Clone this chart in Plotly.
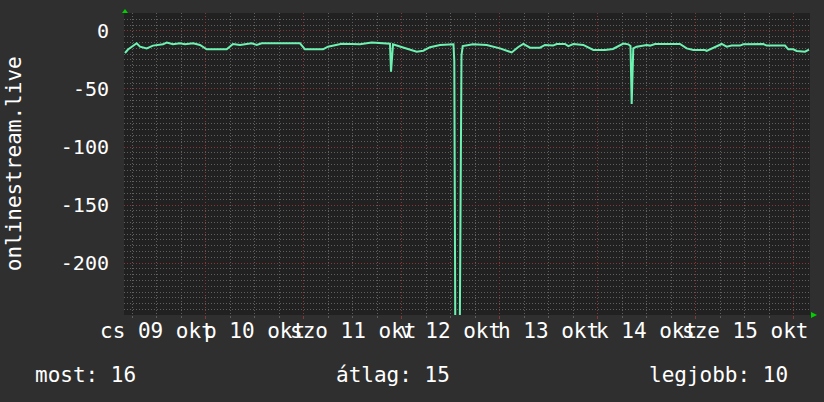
import pandas as pd
import plotly.graph_objects as go

# ---- data ----
base_time = "2025-10-09 00:00"
hours = [4.16, 4.90, 7.03, 7.84, 9.48, 11.02, 13.47, 14.38, 15.92, 17.63, 18.86, 20.82,
         22.53, 24.17, 29.07, 30.61, 32.33, 35.19, 36.42, 37.64, 47.02, 48.24, 52.65,
         53.88, 57.23, 61.71, 64.58, 69.06, 69.31, 69.80, 70.70, 73.96, 75.60, 77.22,
         78.86, 81.31, 84.17, 84.61, 84.81, 85.10, 86.08, 86.57, 86.87, 89.39, 92.74,
         96.00, 98.87, 100.41, 101.71, 103.35, 105.80, 107.02, 108.98, 109.89, 111.92,
         112.73, 113.95, 116.40, 118.85, 121.71, 123.67, 126.20, 127.42, 127.96, 128.25,
         128.64, 129.48, 131.93, 132.73, 133.96, 140.08, 141.72, 143.35, 146.20, 146.62,
         147.84, 149.07, 150.29, 151.52, 152.74, 154.78, 155.58, 160.48, 161.31, 165.80,
         166.60, 167.82, 168.66, 170.69, 171.67]
values = [-19, -16, -10.6, -13.5, -15, -12.6, -11.5, -10, -11.5, -10.6, -11.5, -10.6,
          -12, -15.8, -15.8, -11.2, -12, -10.6, -12, -10.6, -10.6, -15.8, -15.8,
          -13.5, -11, -11.5, -10, -11, -35, -11.5, -12.5, -16.4, -17.8, -17,
          -14, -12, -11.2, -11.5, -26, -300, -300, -21, -13, -11.5, -12,
          -15, -18.5, -14, -11.2, -14.4, -14.4, -12, -12.6, -11.2, -11.2,
          -13, -11.2, -12, -16.4, -16.4, -15.5, -10.8, -11.5, -13, -63,
          -15, -13.5, -12, -12.6, -11.2, -11.2, -15, -16.4, -16.4, -17.2,
          -15, -13, -11.2, -13.5, -12.6, -12.6, -11.5, -11.2, -12.6, -12.6,
          -15.8, -15.8, -17.2, -17.8, -16]
day_labels = ["cs 09 okt", "p 10 okt", "szo 11 okt", "v 12 okt", "h 13 okt", "k 14 okt", "sze 15 okt"]
y_tickvals = [0, -50, -100, -150, -200]
y_ticktext = ["0", "-50", "-100", "-150", "-200"]
series_name = "onlinestream.live"
legend_texts = ["most: 16", "átlag: 15", "legjobb: 10"]
x_start_hours, x_end_hours = 3.92, 171.92
y_range = [-244.8, 15.5]

t0 = pd.Timestamp(base_time)
times = [t0 + pd.Timedelta(hours=h) for h in hours]
midnights = [t0 + pd.Timedelta(days=d) for d in range(0, 8)]
noons = [t0 + pd.Timedelta(days=d, hours=12) for d in range(len(day_labels))]

FONT = "DejaVu Sans Mono"
MAJOR = "rgba(135,55,55,1)"
MINOR = "rgba(95,95,95,1)"
DASH = "1px,2px"

fig = go.Figure()
fig.add_trace(go.Scatter(x=times, y=values, mode="lines",
                         line=dict(color="#6ef2b2", width=2), showlegend=False,
                         hoverinfo="skip"))

fig.update_layout(
    width=824, height=402,
    margin=dict(l=124, r=14, t=13, b=87, autoexpand=False),
    paper_bgcolor="#2f2f2f", plot_bgcolor="#212121",
    font=dict(family=FONT, color="white", size=20),
    showlegend=False,
)
fig.update_xaxes(
    type="date",
    range=[t0 + pd.Timedelta(hours=x_start_hours), t0 + pd.Timedelta(hours=x_end_hours)],
    tickmode="array", tickvals=midnights, showticklabels=False,
    showgrid=True, gridcolor=MAJOR, griddash=DASH, gridwidth=1,
    ticks="outside", ticklen=3, tickcolor=MAJOR,
    minor=dict(dtick=6 * 3600 * 1000, tick0=base_time, showgrid=True,
               gridcolor=MINOR, griddash=DASH, ticks="outside", ticklen=2, tickcolor=MINOR),
    zeroline=False, showline=False,
)
fig.update_yaxes(
    range=y_range,
    tickmode="array", tickvals=y_tickvals, ticktext=y_ticktext,
    tickfont=dict(family=FONT, size=20, color="white"),
    showgrid=True, gridcolor=MAJOR, griddash=DASH, gridwidth=1,
    ticks="", ticklabelstandoff=14,
    minor=dict(dtick=5, tick0=0, showgrid=True, gridcolor=MINOR, griddash=DASH),
    zeroline=False, showline=False,
)

annotations = []
for t, lab in zip(noons, day_labels):
    annotations.append(dict(x=t, y=-0.053, xref="x", yref="paper", text=lab,
                            showarrow=False, xanchor="center", yanchor="middle",
                            font=dict(family=FONT, size=21, color="white")))
annotations.append(dict(x=-0.160, y=0.5, xref="paper", yref="paper", text=series_name,
                        textangle=-90, showarrow=False, xanchor="center", yanchor="middle",
                        font=dict(family=FONT, size=21, color="white")))
leg_pos = [(-0.1327, "left"), (0.392, "center"), (0.9708, "right")]
for (px, anc), txt in zip(leg_pos, legend_texts):
    annotations.append(dict(x=px, y=-0.199, xref="paper", yref="paper", text=txt,
                            showarrow=False, xanchor=anc, yanchor="middle",
                            font=dict(family=FONT, size=21, color="white")))
fig.update_layout(annotations=annotations)

# axis arrows (RRD style)
fig.add_shape(type="path", xref="paper", yref="paper",
              path="M -0.0029,1.0 L 0.0058,1.0 L 0.00146,1.0132 Z",
              fillcolor="#00d000", line=dict(width=0))
fig.add_shape(type="path", xref="paper", yref="paper",
              path="M 1.00146,0.00993 L 1.00146,-0.00993 L 1.0102,0 Z",
              fillcolor="#00d000", line=dict(width=0))

fig.write_html("out.html", config={"displayModeBar": False},
               post_script="document.body.style.margin='0';document.body.style.overflow='hidden';")
